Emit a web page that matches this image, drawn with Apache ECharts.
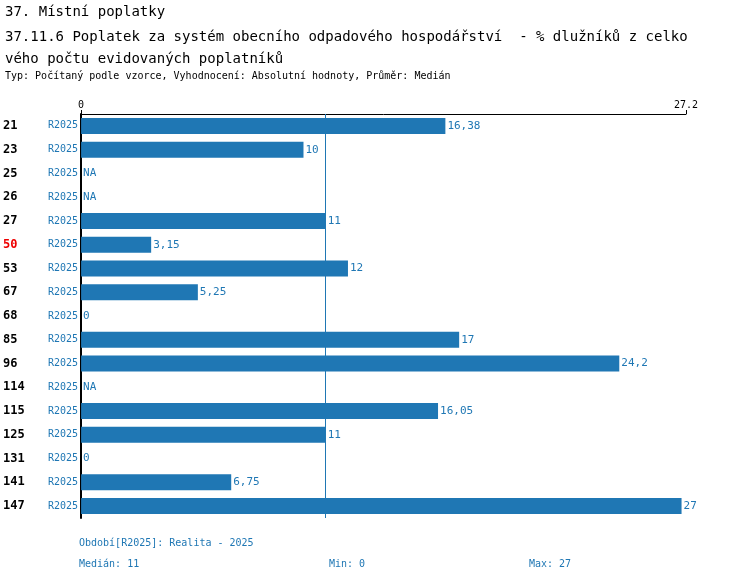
<!DOCTYPE html>
<html><head><meta charset="utf-8">
<script src="https://cdn.jsdelivr.net/npm/echarts@6/dist/echarts.min.js"></script>
<style>body{margin:0;background:#fff}#c{width:750px;height:582px}</style>
</head><body><div id="c"></div>
<script>
var codes = ['21','23','25','26','27','50','53','67','68','85','96','114','115','125','131','141','147'];
var periods = ['R2025','R2025','R2025','R2025','R2025','R2025','R2025','R2025','R2025','R2025','R2025','R2025','R2025','R2025','R2025','R2025','R2025'];
var values = [16.38, 10, null, null, 11, 3.15, 12, 5.25, 0, 17, 24.2, null, 16.05, 11, 0, 6.75, 27];
var highlight = ['50'];
var median = 11;

var font = 'DejaVu Sans Mono';
var blue = '#1f77b4';
var chart = echarts.init(document.getElementById('c'));

var barData = values.map(function (v) {
    if (v === null) return { value: 0, label: { formatter: 'NA' } };
    return v;
});

chart.setOption({
    animation: false,
    textStyle: { fontFamily: font },
    title: [
        { text: '37. Místní poplatky', left: 0, top: 0,
          textStyle: { fontFamily: font, fontSize: 14, fontWeight: 'normal', color: '#000' } },
        { text: '37.11.6 Poplatek za systém obecního odpadového hospodářství  - % dlužníků z celko\nvého počtu evidovaných poplatníků', left: 0, top: 21,
          textStyle: { fontFamily: font, fontSize: 14, fontWeight: 'normal', color: '#000', lineHeight: 22 } },
        { text: 'Typ: Počítaný podle vzorce, Vyhodnocení: Absolutní hodnoty, Průměr: Medián', left: 0, top: 66,
          textStyle: { fontFamily: font, fontSize: 10, fontWeight: 'normal', color: '#000' } }
    ],
    grid: { left: 81, right: 64, top: 114, bottom: 64 },
    xAxis: {
        type: 'value', position: 'top', min: 0, max: 27.2, interval: 100,
        axisLine: { show: true, lineStyle: { color: '#000', width: 1 } },
        axisTick: { show: true, length: 4, lineStyle: { color: '#000' } },
        axisLabel: { fontFamily: font, fontSize: 10, color: '#000', margin: 4 },
        splitLine: { show: false }
    },
    yAxis: {
        type: 'category', inverse: true,
        data: codes.map(function (c, i) { return c + '|' + periods[i]; }),
        axisLine: { show: true, lineStyle: { color: '#000', width: 2 } },
        axisTick: { show: false },
        axisLabel: {
            margin: 3,
            formatter: function (v) {
                var p = v.split('|');
                var s = highlight.indexOf(p[0]) >= 0 ? 'r' : 'a';
                return '{' + s + '|' + p[0] + '}{b|' + p[1] + '}';
            },
            rich: {
                a: { fontFamily: font, fontSize: 12, fontWeight: 'bold', color: '#000', width: 45, align: 'left', padding: [0, 0, 0, 0] },
                r: { fontFamily: font, fontSize: 12, fontWeight: 'bold', color: '#e00', width: 45, align: 'left' },
                b: { fontFamily: font, fontSize: 10, color: blue }
            }
        }
    },
    series: [{
        type: 'bar', data: barData, barWidth: 16,
        itemStyle: { color: blue },
        label: { show: true, position: 'right', distance: 2, fontFamily: font, fontSize: 11, color: blue,
                 formatter: function (p) { return String(p.value).replace('.', ','); } },
        markLine: {
            silent: true, symbol: 'none', label: { show: false },
            lineStyle: { color: blue, width: 1, type: 'solid' },
            data: [{ xAxis: median }]
        }
    }],
    graphic: [
        { type: 'text', left: 79, top: 538, style: { text: 'Období[R2025]: Realita - 2025', font: '10px "DejaVu Sans Mono"', fill: blue } },
        { type: 'text', left: 79, top: 559, style: { text: 'Medián: 11', font: '10px "DejaVu Sans Mono"', fill: blue } },
        { type: 'text', left: 329, top: 559, style: { text: 'Min: 0', font: '10px "DejaVu Sans Mono"', fill: blue } },
        { type: 'text', left: 529, top: 559, style: { text: 'Max: 27', font: '10px "DejaVu Sans Mono"', fill: blue } }
    ]
});
</script></body></html>
